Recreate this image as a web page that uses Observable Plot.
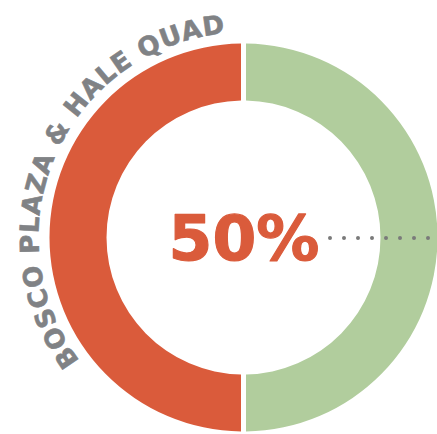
<!DOCTYPE html>
<html>
<head>
<meta charset="utf-8">
<script src="https://cdn.jsdelivr.net/npm/d3@7"></script>
<script src="https://cdn.jsdelivr.net/npm/@observablehq/plot@0.6"></script>
<style>
  html, body { margin: 0; padding: 0; background: #fff; }
  #chart svg { display: block; }
</style>
</head>
<body>
<div id="chart"></div>
<script>
// ---- data ----
const slices = ["Bosco Plaza & Hale Quad", "Other"];
const shares = [50, 50];
const sliceColors = ["#DA5B3B", "#B1CD9D"];
const centerLabel = "50%";
const arcLabel = "BOSCO PLAZA & HALE QUAD";

const rows = slices.map((name, i) => ({name, share: shares[i], color: sliceColors[i]}));

const OUTER = 194, INNER = 137, TEXT_R = 205;

// donut drawn with d3.arc, positioned through Plot's x/y scales
function donutMark(index, scales) {
  const x = scales.x, y = scales.y;
  const cx = x(0), cy = y(0);
  const R = x(OUTER) - cx, r = x(INNER) - cx;
  const pie = d3.pie().sort(null).value(d => d.share).startAngle(Math.PI).endAngle(3 * Math.PI)(rows);
  const arc = d3.arc().innerRadius(r).outerRadius(R).padRadius(R).padAngle(5 / R);
  const g = d3.create("svg:g").attr("transform", `translate(${cx},${cy})`);
  g.selectAll("path").data(pie).join("path")
    .attr("d", arc)
    .attr("fill", d => d.data.color);
  return g.node();
}

// curved label along the outside of the left half
function arcLabelMark(index, scales) {
  const x = scales.x, y = scales.y;
  const cx = x(0), cy = y(0);
  const rb = x(TEXT_R) - cx;
  const a0 = 143 * Math.PI / 180, a1 = 268 * Math.PI / 180;
  const p0 = [cx + rb * Math.cos(a0), cy + rb * Math.sin(a0)];
  const p1 = [cx + rb * Math.cos(a1), cy + rb * Math.sin(a1)];
  const g = d3.create("svg:g");
  g.append("path").attr("id", "labelArc")
    .attr("d", `M${p0[0]},${p0[1]} A${rb},${rb} 0 0 1 ${p1[0]},${p1[1]}`)
    .attr("fill", "none");
  g.append("text")
    .attr("font-family", "DejaVu Sans")
    .attr("font-weight", "bold")
    .attr("font-size", 26)
    .attr("letter-spacing", 0.9)
    .attr("text-anchor", "start")
    .attr("fill", "#808285")
    .attr("stroke", "#808285")
    .attr("stroke-width", 0.6)
    .append("textPath")
    .attr("href", "#labelArc")
    .attr("startOffset", 0)
    .text(arcLabel);
  return g.node();
}

const chart = Plot.plot({
  width: 437,
  height: 434,
  margin: 0,
  style: {background: "#fff"},
  x: {domain: [-243.5, 193.5], axis: null},
  y: {domain: [-196.5, 237.5], axis: null},
  marks: [
    donutMark,
    arcLabelMark,
    Plot.ruleY([0], {x1: 86.5, x2: 185, stroke: "#7a7a7a", strokeWidth: 4, strokeDasharray: "0 14", strokeLinecap: "round"}),
    Plot.text([centerLabel], {x: 0, y: 0, text: d => d, fontSize: 63, fontWeight: "bold", fontFamily: "DejaVu Sans", fill: "#DA5B3B", stroke: "#DA5B3B", strokeWidth: 1.2, dy: 2})
  ]
});
document.getElementById("chart").appendChild(chart);
</script>
</body>
</html>
